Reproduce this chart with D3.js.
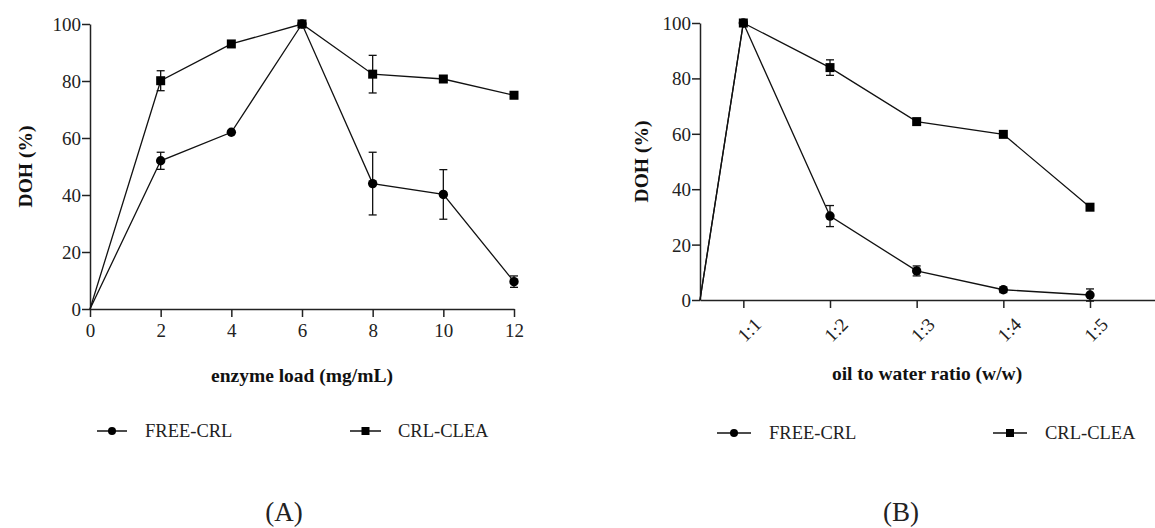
<!DOCTYPE html>
<html>
<head>
<meta charset="utf-8">
<script src="https://cdn.jsdelivr.net/npm/d3@7"></script>
<style>
  body { margin: 0; background: #fff; }
  svg { display: block; font-family: "Liberation Serif", "Times New Roman", serif; }
  .axis path, .axis line { stroke: #222; stroke-width: 1.5; }
  .axis text { font-size: 19px; fill: #222; }
  .title { font-size: 19.5px; font-weight: bold; fill: #111; }
  .legend text { font-size: 18.5px; fill: #222; }
  .panel-label { font-size: 27px; fill: #222; }
</style>
</head>
<body>
<svg id="chart" width="1155" height="528"></svg>
<script>
// ---- panel A: enzyme load ----
const loadA = [0, 2, 4, 6, 8, 10, 12];
const freeA = [0, 52, 62, 100, 44, 40.2, 9.6];
const freeErrA = [0, 3, 0, 0, 11, 8.7, 2];
const cleaA = [0, 80.1, 93, 100, 82.4, 80.7, 75];
const cleaErrA = [0, 3.5, 0, 0, 6.6, 0, 0];

// ---- panel B: oil to water ratio ----
const ratioLabels = ['1:1', '1:2', '1:3', '1:4', '1:5'];
const ratioPos = [0.5, 1, 2, 3, 4, 5];   // first point sits on the axis origin
const freeB = [0, 100, 30.3, 10.5, 3.7, 1.8];
const freeErrB = [0, 0, 3.8, 1.8, 1, 2.2];
const cleaB = [0, 100, 83.9, 64.4, 59.8, 33.5];
const cleaErrB = [0, 0, 2.8, 0, 0, 0];

const yTicks = [0, 20, 40, 60, 80, 100];
const seriesNames = ['FREE-CRL', 'CRL-CLEA'];
const SERIF = '"Liberation Serif", "Times New Roman", serif';

const svg = d3.select('#chart');

function drawPanel(opt) {
  const g = svg.append('g');
  const x = d3.scaleLinear().domain(opt.xDomain).range(opt.xRange);
  const y = d3.scaleLinear().domain([0, 100]).range(opt.yRange);

  // y axis
  g.append('g')
    .attr('class', 'axis')
    .attr('transform', `translate(${opt.xRange[0]},0)`)
    .call(d3.axisLeft(y).tickValues(yTicks).tickSize(8).tickPadding(1).tickSizeOuter(0))
    .attr('font-family', SERIF).attr('font-size', 19)
    .call(a => a.selectAll('text').attr('dy', '0.34em'));

  // x axis
  const xa = g.append('g')
    .attr('class', 'axis')
    .attr('transform', `translate(0,${opt.yRange[0]})`)
    .call(d3.axisBottom(x).tickValues(opt.xTicks).tickFormat(opt.xFormat)
      .tickSize(8).tickPadding(7).tickSizeOuter(0))
    .attr('font-family', SERIF).attr('font-size', 19);
  if (opt.rotate) {
    xa.selectAll('text')
      .attr('text-anchor', 'end')
      .attr('x', 0).attr('y', 0)
      .attr('dy', '0.35em')
      .attr('transform', 'translate(14,21) rotate(-45)');
  }

  // titles
  g.append('text').attr('class', 'title')
    .attr('text-anchor', 'middle')
    .attr('transform', `translate(${opt.yTitleX},${(opt.yRange[0] + opt.yRange[1]) / 2}) rotate(-90)`)
    .text('DOH (%)');
  g.append('text').attr('class', 'title')
    .attr('text-anchor', 'middle')
    .attr('x', opt.xTitleX).attr('y', opt.xTitleY)
    .text(opt.xTitle);

  const line = d3.line().x(d => x(d.x)).y(d => y(d.y));

  opt.series.forEach((s, si) => {
    const pts = opt.xs.map((xv, i) => ({ x: xv, y: s.values[i], e: s.errors[i] }));
    g.append('path').datum(pts)
      .attr('d', line).attr('fill', 'none')
      .attr('stroke', '#111').attr('stroke-width', 1.3);

    // error bars
    const eb = g.selectAll(null).data(pts.filter(d => d.e > 0)).join('g').attr('stroke', '#111').attr('stroke-width', 1.3);
    eb.append('line')
      .attr('x1', d => x(d.x)).attr('x2', d => x(d.x))
      .attr('y1', d => y(d.y + d.e)).attr('y2', d => y(d.y - d.e));
    eb.append('line')
      .attr('x1', d => x(d.x) - 4).attr('x2', d => x(d.x) + 4)
      .attr('y1', d => y(d.y + d.e)).attr('y2', d => y(d.y + d.e));
    eb.append('line')
      .attr('x1', d => x(d.x) - 4).attr('x2', d => x(d.x) + 4)
      .attr('y1', d => y(d.y - d.e)).attr('y2', d => y(d.y - d.e));

    // markers (skip the origin point)
    const mk = pts.filter(d => d.y > 0);
    if (si === 0) {
      g.selectAll(null).data(mk).join('circle')
        .attr('cx', d => x(d.x)).attr('cy', d => y(d.y)).attr('r', 4.7).attr('fill', '#000');
    } else {
      g.selectAll(null).data(mk).join('rect')
        .attr('x', d => x(d.x) - 4.5).attr('y', d => y(d.y) - 4.5)
        .attr('width', 9).attr('height', 9).attr('fill', '#000');
    }
  });

  // legend
  const lg = g.append('g').attr('class', 'legend');
  opt.legend.forEach((l, i) => {
    const item = lg.append('g').attr('transform', `translate(${l.x},${l.y})`);
    item.append('line').attr('x1', 0).attr('x2', l.w).attr('stroke', '#111').attr('stroke-width', 1.5);
    if (i === 0) item.append('circle').attr('cx', l.w / 2).attr('r', 4).attr('fill', '#000');
    else item.append('rect').attr('x', l.w / 2 - 4).attr('y', -4).attr('width', 8).attr('height', 8).attr('fill', '#000');
    item.append('text').attr('x', l.w + l.gap).attr('dy', '0.33em').text(seriesNames[i]);
  });

  g.append('text').attr('class', 'panel-label')
    .attr('text-anchor', 'middle')
    .attr('x', opt.label.x).attr('y', opt.label.y)
    .text(opt.label.text);
}

drawPanel({
  xDomain: [0, 12], xRange: [90, 514], yRange: [309, 24],
  xTicks: loadA, xFormat: d => d, xs: loadA,
  yTitleX: 32, xTitle: 'enzyme load (mg/mL)', xTitleX: 302, xTitleY: 382,
  series: [
    { values: freeA, errors: freeErrA },
    { values: cleaA, errors: cleaErrA }
  ],
  legend: [{ x: 97, y: 431, w: 30, gap: 18 }, { x: 350, y: 431, w: 31, gap: 17 }],
  label: { x: 284, y: 521, text: '(A)' }
});

drawPanel({
  xDomain: [0.5, 5.75], xRange: [700, 1155], yRange: [300, 23],
  xTicks: [1, 2, 3, 4, 5], xFormat: d => ratioLabels[d - 1], xs: ratioPos, rotate: true,
  yTitleX: 648, xTitle: 'oil to water ratio (w/w)', xTitleX: 927, xTitleY: 380,
  series: [
    { values: freeB, errors: freeErrB },
    { values: cleaB, errors: cleaErrB }
  ],
  legend: [{ x: 717, y: 433, w: 34, gap: 18 }, { x: 993, y: 433, w: 34, gap: 18 }],
  label: { x: 901, y: 521, text: '(B)' }
});
</script>
</body>
</html>
